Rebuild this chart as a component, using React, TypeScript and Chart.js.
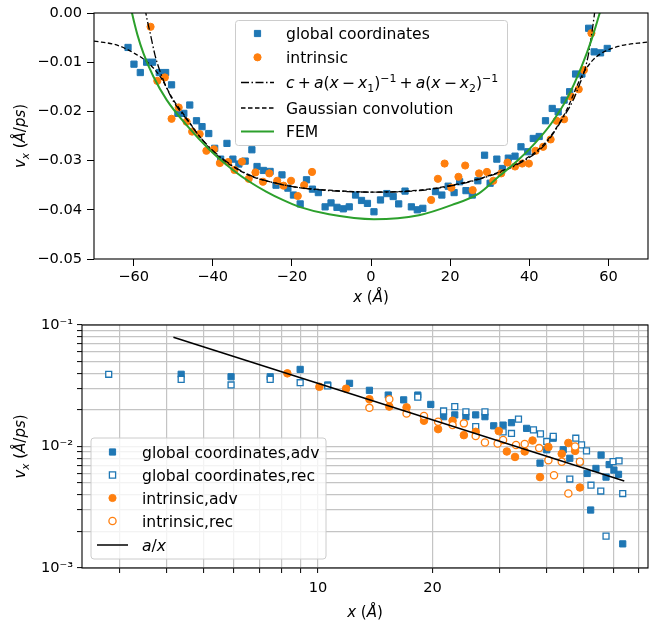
import React, { useEffect, useRef } from 'react';
import { Chart, registerables } from 'chart.js';
Chart.register(...registerables);

const FONT = '"DejaVu Sans", sans-serif';
const FS_TICK = 14.6;
const FS_LEG = 15.6;
const FS_TITLE = 15;
const BLUE = '#1f77b4';
const ORANGE = '#ff7f0e';
const GREEN = '#2ca02c';

// ---------- top panel data ----------
const globalX = [
  -61.4, -59.9, -58.3, -56.7, -55.2, -53.5, -51.9, -50.4, -48.8, -47.3, -45.8, -44.1, -42.7, -41.0,
  -39.5, -38.0, -36.4, -34.9, -33.4, -31.8, -30.1,
  -28.8, -27.2, -25.5, -24.0, -22.5, -21.0, -19.6,
  -17.9, -16.3, -14.8, -13.3, -11.6, -10.1, -8.6, -7.0, -5.5,
  -3.9, -2.4, -0.9, 0.75, 2.4, 4.0, 5.6, 7.0, 8.6, 10.2, 11.7, 13.1,
  16.3, 17.9, 19.5, 21.0, 22.4, 24.0, 25.6,
  27.0, 28.7, 30.1, 31.8, 33.2, 34.7, 36.4, 37.9, 39.6,
  41.0, 42.5, 44.1, 45.8, 47.3, 48.8, 50.2, 51.7, 53.3, 55.0, 56.4, 58.0, 59.7,
];
const globalY = [
  -0.0070, -0.0104, -0.0121, -0.0100, -0.0100, -0.0121, -0.0121, -0.0146, -0.0204, -0.0204, -0.0187, -0.0219, -0.0231, -0.0245,
  -0.0275, -0.0297, -0.0265, -0.0297, -0.0307, -0.0301, -0.0278,
  -0.0312, -0.0320, -0.0322, -0.0350, -0.0329, -0.0356, -0.0370,
  -0.0388, -0.0339, -0.0358, -0.0365, -0.0394, -0.0386, -0.0395, -0.0398, -0.0394,
  -0.0370, -0.0381, -0.0387, -0.0404, -0.0380, -0.0367, -0.0373, -0.0388, -0.0362, -0.0394, -0.0400, -0.0397,
  -0.0363, -0.0370, -0.0352, -0.0365, -0.0343, -0.0361, -0.0370,
  -0.0341, -0.0289, -0.0346, -0.0297, -0.0316, -0.0295, -0.0291, -0.0272, -0.0282,
  -0.0255, -0.0251, -0.0219, -0.0194, -0.0201, -0.0177, -0.0160, -0.0124, -0.0124, -0.0031, -0.0079, -0.0081, -0.0072,
];
const intrinsicX = [
  -55.7, -54.0, -52.1, -50.4, -48.6, -46.6, -45.2, -43.3, -41.6, -39.7, -38.2, -36.1,
  -34.5, -32.6, -30.9, -29.2, -27.3, -25.7, -23.7, -22.1, -20.2, -18.5, -16.9, -14.9,
  15.2, 16.9, 18.6, 20.3, 22.1, 23.8, 25.7, 27.3, 29.3, 30.9, 32.9, 34.5,
  36.4, 38.2, 39.9, 41.6, 43.5, 45.4, 46.9, 48.8, 50.6, 52.5, 53.8, 55.7,
];
const intrinsicY = [
  -0.0028, -0.0138, -0.0131, -0.0215, -0.0192, -0.0221, -0.0241, -0.0246, -0.0280, -0.0277, -0.0305, -0.0303,
  -0.0319, -0.0302, -0.0337, -0.0324, -0.0343, -0.0326, -0.0341, -0.0351, -0.0341, -0.0372, -0.0350, -0.0323,
  -0.0380, -0.0337, -0.0306, -0.0355, -0.0333, -0.0310, -0.0360, -0.0326, -0.0323, -0.0341, -0.0326, -0.0304,
  -0.0312, -0.0306, -0.0306, -0.0280, -0.0272, -0.0257, -0.0219, -0.0216, -0.0170, -0.0155, -0.0116, -0.0041,
];
const fitX = [-57.6, -56.9, -55.8, -54.6, -53.3, -51.6, -49.9, -46.6, -43.3, -39.9, -34.9, -29.9, -24.0, -18.1, -10.6, 0,
  12.1, 20.5, 28.9, 37.2, 43.9, 49.0, 51.1, 52.8, 54.0, 55.0, 55.8, 56.5, 57.1];
const fitY = [0.004, 0, -0.0041, -0.0085, -0.0119, -0.0153, -0.0180, -0.0216, -0.0251, -0.0280, -0.0311, -0.0332, -0.0346, -0.0355, -0.0361, -0.0364,
  -0.0361, -0.0351, -0.0334, -0.0307, -0.0268, -0.0207, -0.0177, -0.0143, -0.0116, -0.0082, -0.0041, 0, 0.004];
const gaussX = [-70, -64.3, -60, -56.6, -53.3, -49.9, -46.6, -43.3, -39.9, -34.9, -29.9, -24, -18.1, -10.6, 0,
  12.1, 20.5, 28.9, 37.2, 43.9, 49, 53.2, 55.7, 58.2, 62.4, 70];
const gaussY = [-0.0057, -0.0065, -0.0081, -0.0099, -0.0129, -0.0177, -0.0214, -0.0251, -0.0282, -0.0312, -0.0333, -0.0346, -0.0355, -0.0360, -0.0364,
  -0.0360, -0.0350, -0.0333, -0.0305, -0.0265, -0.0204, -0.0129, -0.0099, -0.0082, -0.0068, -0.0059];
const femX = [-61.2, -60.4, -59.0, -57.5, -55.0, -51.6, -46.6, -40.8, -34.9, -30.7, -26.5, -22.3, -18.1, -10.6, 0.75,
  12.1, 20.5, 27.2, 32.2, 37.2, 41.4, 45.6, 49.8, 53.2, 55.7, 57.8, 58.5];
const femY = [0.003, 0, -0.0045, -0.0082, -0.0129, -0.0177, -0.0228, -0.0278, -0.0319, -0.0343, -0.0363, -0.0380, -0.0394, -0.0409, -0.0419,
  -0.0411, -0.0390, -0.0367, -0.0333, -0.0299, -0.0265, -0.0224, -0.0170, -0.0109, -0.0055, 0, 0.002];
const topXTicks = [-60, -40, -20, 0, 20, 40, 60];
const topYTicks = [-0.05, -0.04, -0.03, -0.02, -0.01, 0];

// ---------- bottom panel data ----------
const gAdvX = [4.36, 5.90, 7.48, 8.97, 10.6, 12.1, 13.65, 15.3, 16.8, 18.3, 19.8, 21.4, 22.9, 24.5, 26.0, 27.5, 29.0, 30.7, 32.3, 35.4,
  38.4, 40.0, 41.6, 44.2, 46.0, 48.9, 51.1, 52.2, 53.9, 55.6, 57.3, 58.4, 60.1, 61.8, 63.4];
const gAdvY = [0.0393, 0.0375, 0.0375, 0.0431, 0.0321, 0.0331, 0.0290, 0.0265, 0.0242, 0.0265, 0.0222, 0.0176, 0.0182, 0.0176, 0.0182, 0.0176, 0.0148, 0.0150, 0.0157, 0.0141,
  0.0073, 0.0094, 0.0117, 0.0094, 0.0080, 0.0075, 0.0060, 0.0030, 0.0066, 0.0085, 0.0056, 0.0071, 0.0064, 0.0059, 0.00158];
const gRecX = [2.81, 4.36, 5.90, 7.48, 8.97, 10.6, 18.3, 21.4, 22.9, 24.5, 26.0, 27.5, 30.7, 32.3, 33.7,
  36.9, 38.5, 40.0, 41.6, 46.0, 47.7, 49.4, 50.9, 52.3, 55.5, 57.3, 59.8, 62.0, 63.4];
const gRecY = [0.0393, 0.0357, 0.0321, 0.0357, 0.0335, 0.0315, 0.0255, 0.0196, 0.0213, 0.0193, 0.0146, 0.0193, 0.0132, 0.0128, 0.0168,
  0.0137, 0.0127, 0.0110, 0.0121, 0.0054, 0.0117, 0.0103, 0.0092, 0.0048, 0.0043, 0.00183, 0.0075, 0.0076, 0.0041];
const iAdvX = [8.30, 10.08, 11.85, 13.65, 15.4, 17.1, 19.0, 20.7, 22.6, 24.2, 26.0, 29.9, 31.4, 33.0, 35.0, 36.7, 38.4, 40.4, 43.8, 45.6, 47.5, 48.9];
const iAdvY = [0.0400, 0.0310, 0.0299, 0.0245, 0.0213, 0.0210, 0.0163, 0.0139, 0.0163, 0.0124, 0.0132, 0.0134, 0.0091, 0.0082, 0.0091, 0.0112, 0.0056, 0.0099, 0.0087, 0.0107, 0.0092, 0.0046];
const iRecX = [13.65, 15.4, 17.1, 19.0, 20.7, 22.6, 24.2, 26.0, 27.5, 29.7, 30.7, 33.2, 35.0, 38.2, 40.4, 41.8, 43.8, 45.6, 47.5, 48.9];
const iRecY = [0.0208, 0.0245, 0.0187, 0.0178, 0.0160, 0.0150, 0.0155, 0.0122, 0.0108, 0.0106, 0.0113, 0.0103, 0.0105, 0.0097, 0.0077, 0.0058, 0.0075, 0.0041, 0.0100, 0.0075];
const axX = [4.16, 64.0];
const axY = [0.0792, 0.0052];
const botXTicks = [3, 4, 5, 6, 7, 8, 9, 10, 20, 30, 40, 50, 60, 70];
const botXLabels = ['', '', '', '', '', '', '', '10', '20', '', '', '', '', ''];
const botYTicks = [0.001, 0.002, 0.003, 0.004, 0.005, 0.006, 0.007, 0.008, 0.009,
  0.01, 0.02, 0.03, 0.04, 0.05, 0.06, 0.07, 0.08, 0.09, 0.1];
const botYLabels = ['10⁻³', '', '', '', '', '', '', '', '', '10⁻²', '', '', '', '', '', '', '', '', '10⁻¹'];

// ---------- helpers ----------
type Seg = { t: string; it?: boolean; sub?: boolean; sup?: boolean; gap?: number };
const pts = (xs: number[], ys: number[]) => xs.map((x, i) => ({ x, y: ys[i] }));

function segFont(s: Seg, size: number) {
  const sz = s.sub || s.sup ? size * 0.7 : size;
  return `${s.it ? 'italic ' : ''}${sz}px ${FONT}`;
}
function segW(ctx: CanvasRenderingContext2D, s: Seg, size: number) {
  if (s.gap !== undefined) return s.gap * size;
  ctx.font = segFont(s, size);
  return ctx.measureText(s.t).width;
}
function drawRich(ctx: CanvasRenderingContext2D, segs: Seg[], x: number, yMid: number, size: number, align: 'left' | 'center') {
  let w = 0;
  for (const s of segs) w += segW(ctx, s, size);
  let cx = align === 'center' ? x - w / 2 : x;
  const base = yMid + size * 0.36;
  ctx.textAlign = 'left';
  ctx.textBaseline = 'alphabetic';
  ctx.fillStyle = '#000';
  for (const s of segs) {
    const sw = segW(ctx, s, size);
    if (s.gap === undefined) {
      ctx.font = segFont(s, size);
      const dy = s.sub ? size * 0.22 : s.sup ? -size * 0.38 : 0;
      ctx.fillText(s.t, cx, base + dy);
    }
    cx += sw;
  }
}

const xTitle: Seg[] = [{ t: 'x', it: true }, { t: ' (' }, { t: 'Å', it: true }, { t: ')' }];
const yTitle: Seg[] = [{ t: 'v', it: true }, { t: 'x', it: true, sub: true }, { t: ' (' }, { t: 'Å', it: true }, { t: '/' }, { t: 'ps', it: true }, { t: ')' }];
const G = 0.2;
const fitLabel: Seg[] = [
  { t: 'c', it: true }, { gap: G, t: '' }, { t: '+' }, { gap: G, t: '' }, { t: 'a', it: true }, { t: '(' }, { t: 'x', it: true },
  { gap: G, t: '' }, { t: '−' }, { gap: G, t: '' }, { t: 'x', it: true },
  { t: '1', sub: true }, { t: ')' }, { t: '−1', sup: true }, { gap: G, t: '' }, { t: '+' }, { gap: G, t: '' }, { t: 'a', it: true }, { t: '(' }, { t: 'x', it: true },
  { gap: G, t: '' }, { t: '−' }, { gap: G, t: '' }, { t: 'x', it: true }, { t: '2', sub: true }, { t: ')' }, { t: '−1', sup: true },
];

type Handle = { kind: 'sq' | 'sqh' | 'ci' | 'cih' | 'line'; color: string; dash?: number[]; lw?: number };
type LegendItem = { h: Handle; label: Seg[] };

function drawHandle(ctx: CanvasRenderingContext2D, h: Handle, x0: number, x1: number, y: number) {
  ctx.save();
  const cx = (x0 + x1) / 2;
  if (h.kind === 'line') {
    ctx.strokeStyle = h.color; ctx.lineWidth = h.lw || 1.5; ctx.setLineDash(h.dash || []);
    ctx.beginPath(); ctx.moveTo(x0, y); ctx.lineTo(x1, y); ctx.stroke();
  } else if (h.kind === 'sq' || h.kind === 'sqh') {
    const s = 6.2;
    ctx.beginPath(); ctx.rect(cx - s / 2, y - s / 2, s, s);
    ctx.fillStyle = h.kind === 'sq' ? h.color : '#fff'; ctx.fill();
    ctx.strokeStyle = h.color; ctx.lineWidth = h.kind === 'sq' ? 1 : 1.3; ctx.stroke();
  } else {
    ctx.beginPath(); ctx.arc(cx, y, 3.6, 0, Math.PI * 2);
    ctx.fillStyle = h.kind === 'ci' ? h.color : '#fff'; ctx.fill();
    ctx.strokeStyle = h.color; ctx.lineWidth = h.kind === 'ci' ? 1 : 1.3; ctx.stroke();
  }
  ctx.restore();
}

function drawLegend(ctx: CanvasRenderingContext2D, box: { x: number; y: number; w: number; h: number },
  items: LegendItem[], ys: number[], hx0: number, hx1: number, tx: number) {
  ctx.save();
  const r = 3;
  const { x, y, w, h } = box;
  ctx.beginPath();
  ctx.moveTo(x + r, y); ctx.lineTo(x + w - r, y); ctx.arcTo(x + w, y, x + w, y + r, r);
  ctx.lineTo(x + w, y + h - r); ctx.arcTo(x + w, y + h, x + w - r, y + h, r);
  ctx.lineTo(x + r, y + h); ctx.arcTo(x, y + h, x, y + h - r, r);
  ctx.lineTo(x, y + r); ctx.arcTo(x, y, x + r, y, r); ctx.closePath();
  ctx.fillStyle = 'rgba(255,255,255,0.8)'; ctx.fill();
  ctx.strokeStyle = '#cccccc'; ctx.lineWidth = 1; ctx.stroke();
  items.forEach((it, i) => {
    drawHandle(ctx, it.h, hx0, hx1, ys[i]);
    drawRich(ctx, it.label, tx, ys[i], FS_LEG, 'left');
  });
  ctx.restore();
}

function framePlugin(id: string, extra: (chart: any) => void) {
  return {
    id,
    afterDraw(chart: any) {
      const ctx = chart.ctx as CanvasRenderingContext2D;
      const a = chart.chartArea;
      ctx.save();
      ctx.strokeStyle = '#000'; ctx.lineWidth = 1.1;
      ctx.strokeRect(a.left, a.top, a.right - a.left, a.bottom - a.top);
      ctx.restore();
      extra(chart);
    },
  };
}

const tickFont = { family: FONT, size: FS_TICK };
const fixX = (h: number) => (s: any) => { s.height = h; s.paddingLeft = 0; s.paddingRight = 0; };
const fixY = (w: number) => (s: any) => { s.width = w; s.paddingTop = 0; s.paddingBottom = 0; };

function topConfig(): any {
  const tgrid = { display: true, drawOnChartArea: false, tickLength: 7, tickColor: '#000', tickWidth: 1 };
  return {
    type: 'scatter',
    data: {
      datasets: [
        { data: pts(globalX, globalY), backgroundColor: BLUE, borderColor: BLUE, pointStyle: 'rect', pointRadius: 4.4, borderWidth: 1, order: 10 },
        { data: pts(intrinsicX, intrinsicY), backgroundColor: ORANGE, borderColor: ORANGE, pointStyle: 'circle', pointRadius: 3.6, borderWidth: 1, order: 9 },
        { data: pts(fitX, fitY), showLine: true, pointRadius: 0, borderColor: '#000', borderWidth: 1.3, borderDash: [8, 2.5, 1.5, 2.5], cubicInterpolationMode: 'monotone', clip: 0, order: 3 },
        { data: pts(gaussX, gaussY), showLine: true, pointRadius: 0, borderColor: '#000', borderWidth: 1.3, borderDash: [4.5, 2.5], cubicInterpolationMode: 'monotone', clip: 0, order: 2 },
        { data: pts(femX, femY), showLine: true, pointRadius: 0, borderColor: GREEN, borderWidth: 2, cubicInterpolationMode: 'monotone', clip: 0, order: 1 },
      ],
    },
    options: {
      responsive: false, animation: false, events: [],
      layout: { autoPadding: false, padding: { top: 13, right: 1, left: 0, bottom: 0 } },
      plugins: { legend: { display: false }, tooltip: { enabled: false } },
      scales: {
        x: {
          type: 'linear', min: -70, max: 70,
          afterBuildTicks: (s: any) => { s.ticks = topXTicks.map((v) => ({ value: v })); },
          afterFit: fixX(51),
          ticks: { font: tickFont, color: '#000', padding: 2, maxRotation: 0, autoSkip: false,
            callback: (v: number) => String(v).replace('-', '−') },
          grid: tgrid,
          border: { display: false },
        },
        y: {
          type: 'linear', min: -0.05, max: 0,
          afterBuildTicks: (s: any) => { s.ticks = topYTicks.map((v) => ({ value: v })); },
          afterFit: fixY(94),
          ticks: { font: tickFont, color: '#000', padding: 5, autoSkip: false,
            callback: (v: number) => (Math.abs(v) < 1e-9 ? '0.00' : v.toFixed(2)).replace('-', '−') },
          grid: tgrid,
          border: { display: false },
        },
      },
    },
    plugins: [framePlugin('topFrame', (chart: any) => {
      const ctx = chart.ctx as CanvasRenderingContext2D;
      const a = chart.chartArea;
      ctx.save();
      drawRich(ctx, xTitle, (a.left + a.right) / 2, 297, FS_TITLE, 'center');
      ctx.translate(20, (a.top + a.bottom) / 2); ctx.rotate(-Math.PI / 2);
      drawRich(ctx, yTitle, 0, 0, FS_TITLE, 'center');
      ctx.restore();
      drawLegend(ctx, { x: 235.5, y: 20.5, w: 272, h: 125 }, [
        { h: { kind: 'sq', color: BLUE }, label: [{ t: 'global coordinates' }] },
        { h: { kind: 'ci', color: ORANGE }, label: [{ t: 'intrinsic' }] },
        { h: { kind: 'line', color: '#000', dash: [8, 2.5, 1.5, 2.5], lw: 1.3 }, label: fitLabel },
        { h: { kind: 'line', color: '#000', dash: [4.5, 2.5], lw: 1.3 }, label: [{ t: 'Gaussian convolution' }] },
        { h: { kind: 'line', color: GREEN, lw: 2 }, label: [{ t: 'FEM' }] },
      ], [33.5, 57.3, 82.5, 108, 131.5], 241, 274, 286);
    })],
  };
}

function botConfig(): any {
  const grid = { display: true, drawOnChartArea: true, color: '#c4c4c4', lineWidth: 1.2, tickLength: 5, tickColor: '#000', tickWidth: 1 };
  return {
    type: 'scatter',
    data: {
      datasets: [
        { data: pts(gAdvX, gAdvY), pointStyle: 'rect', pointRadius: 4.4, borderWidth: 1, backgroundColor: BLUE, borderColor: BLUE, order: 5 },
        { data: pts(gRecX, gRecY), pointStyle: 'rect', pointRadius: 4.2, borderWidth: 1.3, backgroundColor: '#fff', borderColor: BLUE, order: 4 },
        { data: pts(iAdvX, iAdvY), pointStyle: 'circle', pointRadius: 3.8, borderWidth: 1, backgroundColor: ORANGE, borderColor: ORANGE, order: 3 },
        { data: pts(iRecX, iRecY), pointStyle: 'circle', pointRadius: 3.6, borderWidth: 1.3, backgroundColor: '#fff', borderColor: ORANGE, order: 2 },
        { data: pts(axX, axY), showLine: true, pointRadius: 0, borderColor: '#000', borderWidth: 1.5, order: 1 },
      ],
    },
    options: {
      responsive: false, animation: false, events: [],
      layout: { autoPadding: false, padding: { top: 15, right: 1, left: 0, bottom: 0 } },
      plugins: { legend: { display: false }, tooltip: { enabled: false } },
      scales: {
        x: {
          type: 'logarithmic', min: 2.39, max: 73.9,
          afterBuildTicks: (s: any) => { s.ticks = botXTicks.map((v) => ({ value: v })); },
          afterFit: fixX(54),
          ticks: { font: tickFont, color: '#000', padding: 6, maxRotation: 0, autoSkip: false,
            callback: (_v: number, i: number) => botXLabels[i] },
          grid, border: { display: false },
        },
        y: {
          type: 'logarithmic', min: 0.001, max: 0.1,
          afterBuildTicks: (s: any) => { s.ticks = botYTicks.map((v) => ({ value: v })); },
          afterFit: fixY(82),
          ticks: { font: tickFont, color: '#000', padding: 4, autoSkip: false,
            callback: (_v: number, i: number) => botYLabels[i] },
          grid, border: { display: false },
        },
      },
    },
    plugins: [framePlugin('botFrame', (chart: any) => {
      const ctx = chart.ctx as CanvasRenderingContext2D;
      const a = chart.chartArea;
      ctx.save();
      drawRich(ctx, xTitle, (a.left + a.right) / 2, 302, FS_TITLE, 'center');
      ctx.translate(20, (a.top + a.bottom) / 2); ctx.rotate(-Math.PI / 2);
      drawRich(ctx, yTitle, 0, 0, FS_TITLE, 'center');
      ctx.restore();
      drawLegend(ctx, { x: 91, y: 128, w: 235, h: 121 }, [
        { h: { kind: 'sq', color: BLUE }, label: [{ t: 'global coordinates,adv' }] },
        { h: { kind: 'sqh', color: BLUE }, label: [{ t: 'global coordinates,rec' }] },
        { h: { kind: 'ci', color: ORANGE }, label: [{ t: 'intrinsic,adv' }] },
        { h: { kind: 'cih', color: ORANGE }, label: [{ t: 'intrinsic,rec' }] },
        { h: { kind: 'line', color: '#000', lw: 1.5 }, label: [{ t: 'a', it: true }, { t: '/' }, { t: 'x', it: true }] },
      ], [142, 165, 188, 211, 235], 97, 128, 142);
    })],
  };
}

export default function App() {
  const topRef = useRef<HTMLCanvasElement>(null);
  const botRef = useRef<HTMLCanvasElement>(null);
  useEffect(() => {
    const c1 = new Chart(topRef.current as HTMLCanvasElement, topConfig());
    const c2 = new Chart(botRef.current as HTMLCanvasElement, botConfig());
    return () => { c1.destroy(); c2.destroy(); };
  }, []);
  return (
    <div style={{ position: 'absolute', left: 0, top: 0, width: 649, height: 622, background: '#fff' }}>
      <canvas ref={topRef} width={649} height={310} style={{ position: 'absolute', left: 0, top: 0 }} />
      <canvas ref={botRef} width={649} height={312} style={{ position: 'absolute', left: 0, top: 310 }} />
    </div>
  );
}
